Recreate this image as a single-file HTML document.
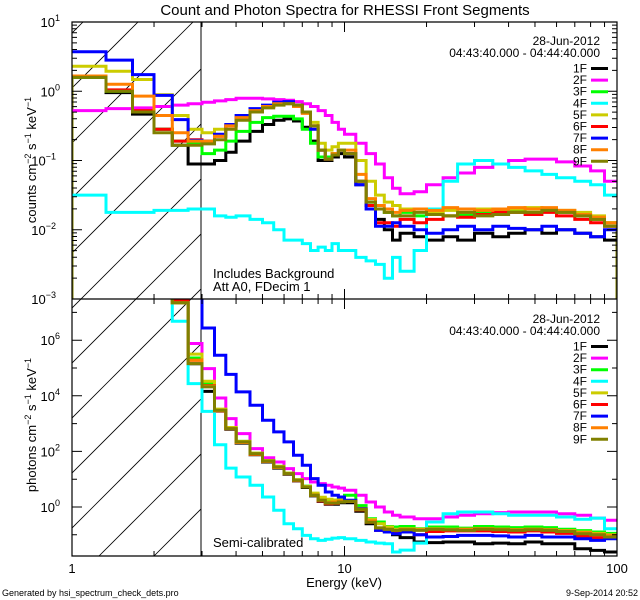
<!DOCTYPE html>
<html><head><meta charset="utf-8"><style>
html,body{margin:0;padding:0;background:#fff;}
svg{display:block;font-family:"Liberation Sans",sans-serif;}
</style></head><body>
<svg id="chart" width="640" height="600" viewBox="0 0 640 600" xmlns="http://www.w3.org/2000/svg">
<rect width="640" height="600" fill="#fff"/>
<defs>
<clipPath id="cTop"><rect x="72" y="22" width="545" height="277"/></clipPath>
<clipPath id="cBot"><rect x="72" y="299" width="545" height="257"/></clipPath>
<clipPath id="cHatch"><rect x="72" y="22" width="129" height="534"/></clipPath>
</defs>
<text x="345" y="15" font-size="15" text-anchor="middle">Count and Photon Spectra for RHESSI Front Segments</text>
<g id="hatch" clip-path="url(#cHatch)"></g>
<line x1="201" y1="22" x2="201" y2="556" stroke="#000" stroke-width="1"/>
<g id="seriesTop" clip-path="url(#cTop)"></g>
<g id="seriesBot" clip-path="url(#cBot)"></g>
<g id="axes"></g>
<text transform="translate(36,160) rotate(-90)" font-size="13" text-anchor="middle">counts cm<tspan dy="-5" font-size="9">−2</tspan><tspan dy="5"> s</tspan><tspan dy="-5" font-size="9">−1</tspan><tspan dy="5"> keV</tspan><tspan dy="-5" font-size="9">−1</tspan></text>
<text transform="translate(36,425) rotate(-90)" font-size="13" text-anchor="middle">photons cm<tspan dy="-5" font-size="9">−2</tspan><tspan dy="5"> s</tspan><tspan dy="-5" font-size="9">−1</tspan><tspan dy="5"> keV</tspan><tspan dy="-5" font-size="9">−1</tspan></text>
<text x="344" y="587" font-size="13" text-anchor="middle">Energy (keV)</text>
<text x="213" y="278" font-size="13">Includes Background</text>
<text x="213" y="291" font-size="13">Att A0, FDecim 1</text>
<text x="213" y="547" font-size="13">Semi-calibrated</text>
<text x="2" y="596" font-size="9">Generated by hsi_spectrum_check_dets.pro</text>
<text x="638" y="596" font-size="9" text-anchor="end">9-Sep-2014 20:52</text>
<g id="legends"></g>
</svg>
<script>
const edges=[1,1.333,1.667,2,2.333,2.667,3,3.333,3.667,4,4.5,5,5.5,6,6.5,7,7.5,8,8.5,9,9.5,10,11,12,13,14,15,16,18,20,23,26,30,35,40,46,53,60,70,80,90,100];
const names=["1F","2F","3F","4F","5F","6F","7F","8F","9F"];
const colors=["#000000","#ff00ff","#00ff00","#00ffff","#cccc00","#ff0000","#0000ff","#ff8000","#808000"];
const top1F=[0.2,-0.02,-0.33,-0.55,-0.78,-1.05,-1.05,-1.0,-0.88,-0.72,-0.58,-0.48,-0.42,-0.4,-0.43,-0.52,-0.72,-1.0,-1.0,-0.95,-0.9,-0.95,-1.35,-1.65,-1.85,-2.0,-2.15,-2.05,-2.1,-2.15,-2.1,-2.15,-2.05,-2.1,-2.05,-2.0,-2.05,-2.0,-2.05,-2.1,-2.15];
const top2F=[-0.28,-0.25,-0.24,-0.22,-0.2,-0.18,-0.16,-0.14,-0.12,-0.1,-0.1,-0.11,-0.12,-0.13,-0.15,-0.18,-0.22,-0.28,-0.35,-0.45,-0.55,-0.62,-0.75,-0.9,-1.05,-1.25,-1.4,-1.48,-1.45,-1.35,-1.25,-1.18,-1.1,-1.05,-1.0,-0.98,-0.98,-1.02,-1.08,-1.15,-1.3];
const top3F=[0.2,0.0,-0.3,-0.55,-0.72,-0.75,-0.9,-0.85,-0.72,-0.58,-0.45,-0.38,-0.36,-0.36,-0.4,-0.55,-0.75,-0.95,-0.95,-0.9,-0.85,-0.9,-1.3,-1.6,-1.7,-1.75,-1.8,-1.75,-1.8,-1.75,-1.8,-1.78,-1.75,-1.75,-1.72,-1.75,-1.7,-1.75,-1.8,-1.85,-1.9];
const top4F=[-1.5,-1.75,-1.75,-1.72,-1.72,-1.7,-1.7,-1.8,-1.82,-1.8,-1.85,-1.9,-2.0,-2.15,-2.15,-2.2,-2.3,-2.25,-2.3,-2.2,-2.3,-2.3,-2.4,-2.45,-2.5,-2.7,-2.4,-2.6,-2.3,-1.7,-1.3,-1.05,-1.0,-1.05,-1.1,-1.15,-1.2,-1.25,-1.3,-1.35,-1.5];
const top5F=[0.36,0.29,0.17,-0.05,-0.35,-0.55,-0.6,-0.55,-0.5,-0.4,-0.3,-0.22,-0.18,-0.17,-0.2,-0.3,-0.45,-0.75,-0.85,-0.8,-0.75,-0.75,-1.0,-1.3,-1.5,-1.6,-1.65,-1.7,-1.7,-1.75,-1.72,-1.75,-1.7,-1.72,-1.7,-1.68,-1.7,-1.72,-1.75,-1.8,-1.9];
const top6F=[0.22,0.02,-0.28,-0.55,-0.72,-0.7,-0.72,-0.65,-0.5,-0.38,-0.27,-0.22,-0.18,-0.17,-0.2,-0.3,-0.5,-0.85,-0.98,-0.92,-0.85,-0.9,-1.3,-1.65,-1.9,-1.9,-1.95,-1.85,-1.9,-1.85,-1.8,-1.82,-1.78,-1.75,-1.75,-1.78,-1.75,-1.8,-1.85,-1.9,-1.95];
const top7F=[0.57,0.45,0.24,-0.06,-0.41,-0.71,-0.72,-0.62,-0.48,-0.35,-0.25,-0.2,-0.16,-0.15,-0.2,-0.3,-0.55,-0.85,-0.98,-0.92,-0.85,-0.9,-1.35,-1.7,-1.95,-1.95,-1.9,-1.95,-2.0,-2.05,-2.0,-1.95,-2.0,-1.95,-1.98,-2.0,-1.95,-2.0,-2.05,-2.1,-2.0];
const top8F=[0.22,0.1,-0.07,-0.35,-0.6,-0.72,-0.72,-0.65,-0.5,-0.38,-0.28,-0.22,-0.18,-0.18,-0.22,-0.32,-0.5,-0.85,-0.98,-0.9,-0.85,-0.85,-1.2,-1.55,-1.65,-1.7,-1.75,-1.72,-1.7,-1.72,-1.68,-1.7,-1.72,-1.7,-1.68,-1.7,-1.68,-1.72,-1.78,-1.82,-1.9];
const top9F=[0.2,0.0,-0.3,-0.6,-0.78,-0.78,-0.76,-0.7,-0.55,-0.42,-0.3,-0.24,-0.2,-0.18,-0.2,-0.3,-0.5,-0.85,-0.98,-0.92,-0.85,-0.9,-1.3,-1.6,-1.7,-1.75,-1.8,-1.8,-1.75,-1.78,-1.8,-1.75,-1.8,-1.78,-1.75,-1.75,-1.72,-1.75,-1.8,-1.85,-1.95];
const bot1F=[9,9,9,9,7.35,5.15,4.16,3.45,2.8,2.3,1.88,1.62,1.4,1.18,0.94,0.7,0.4,0.2,0.1,0.1,0.15,0.15,-0.15,-0.6,-0.8,-0.85,-1.0,-1.1,-1.26,-1.28,-1.26,-1.26,-1.32,-1.3,-1.32,-1.26,-1.32,-1.32,-1.5,-1.56,-1.62];
const bot2F=[9,9,9,9,7.35,5.88,4.98,3.92,3.18,2.64,2.1,1.77,1.62,1.38,1.2,1.02,0.9,0.84,0.78,0.72,0.68,0.6,0.42,0.18,0.0,-0.18,-0.3,-0.36,-0.42,-0.42,-0.36,-0.3,-0.24,-0.2,-0.18,-0.18,-0.18,-0.24,-0.3,-0.4,-0.48];
const bot3F=[9,9,9,9,7.35,5.36,4.44,3.5,2.84,2.36,1.93,1.67,1.46,1.22,0.98,0.75,0.46,0.28,0.2,0.25,0.35,0.42,0.05,-0.42,-0.54,-0.7,-0.72,-0.7,-0.78,-0.72,-0.72,-0.76,-0.7,-0.72,-0.74,-0.72,-0.74,-0.8,-0.85,-0.9,-0.95];
const bot4F=[9,9,9,9,6.68,4.44,3.44,2.24,1.4,1.08,0.78,0.36,-0.12,-0.6,-0.78,-1.02,-1.14,-1.2,-1.16,-1.12,-1.1,-1.14,-1.2,-1.26,-1.3,-1.32,-1.62,-1.55,-1.3,-0.54,-0.24,-0.18,-0.18,-0.24,-0.3,-0.3,-0.3,-0.36,-0.44,-0.4,-0.78];
const bot5F=[9,9,9,9,7.35,5.5,4.52,3.52,2.86,2.36,1.94,1.67,1.46,1.22,0.98,0.74,0.5,0.35,0.28,0.25,0.25,0.2,-0.05,-0.45,-0.6,-0.72,-0.8,-0.78,-0.8,-0.78,-0.8,-0.8,-0.78,-0.8,-0.82,-0.8,-0.82,-0.85,-0.9,-0.95,-1.0];
const bot6F=[9,9,9,9,7.45,5.28,4.36,3.46,2.82,2.32,1.9,1.64,1.42,1.2,0.95,0.72,0.42,0.22,0.12,0.13,0.2,0.2,-0.1,-0.55,-0.84,-0.88,-0.9,-0.84,-1.0,-0.88,-0.86,-0.86,-0.86,-0.88,-0.9,-0.86,-0.9,-0.95,-1.05,-1.1,-1.1];
const bot7F=[9,9,9,9,9,9,6.44,5.46,4.77,4.14,3.66,3.12,2.7,2.34,1.86,1.5,1.02,0.78,0.54,0.42,0.36,0.24,-0.06,-0.54,-0.84,-0.9,-0.96,-0.9,-1.0,-1.08,-1.06,-1.02,-1.02,-1.04,-1.08,-1.02,-1.08,-1.08,-1.14,-1.2,-1.14];
const bot8F=[9,9,9,9,7.35,5.28,4.34,3.46,2.82,2.32,1.9,1.64,1.42,1.2,0.96,0.72,0.42,0.24,0.16,0.18,0.2,0.2,-0.1,-0.5,-0.75,-0.8,-0.84,-0.8,-0.82,-0.8,-0.82,-0.8,-0.78,-0.8,-0.82,-0.8,-0.82,-0.86,-0.92,-0.98,-1.02];
const bot9F=[9,9,9,9,7.35,5.16,4.32,3.48,2.82,2.34,1.92,1.65,1.44,1.2,0.96,0.72,0.42,0.24,0.14,0.14,0.18,0.2,-0.08,-0.55,-0.75,-0.8,-0.84,-0.82,-0.84,-0.8,-0.82,-0.84,-0.8,-0.82,-0.84,-0.82,-0.84,-0.88,-0.96,-1.0,-1.08];
const topSeries=[top1F,top2F,top3F,top4F,top5F,top6F,top7F,top8F,top9F];
const botSeries=[bot1F,bot2F,bot3F,bot4F,bot5F,bot6F,bot7F,bot8F,bot9F];
const xTickLabels=["1","10","100"];
const topYTickExps=["1","0","−1","−2","−3"];
const botYTickExps=["6","4","2","0"];
const legendDate="28-Jun-2012";
const legendTime="04:43:40.000 - 04:44:40.000";

const NS="http://www.w3.org/2000/svg";
const X0=72,X1=617,TY0=22,MID=299,BY1=556;
function xS(e){return X0+Math.log10(e)*(X1-X0)/2;}
function yT(l){return TY0+(1-l)*(MID-TY0)/4;}
function yB(l){return 507-l*27.8;}
function mk(tag,attrs,parent){const el=document.createElementNS(NS,tag);for(const k in attrs)el.setAttribute(k,attrs[k]);parent.appendChild(el);return el;}

// hatch
const hatch=document.getElementById('hatch');
for(let c=50-55*2;c<900;c+=55){
  const l=mk('line',{x1:c-600,y1:600,x2:c,y2:0,stroke:'#000','stroke-width':0.8},hatch);
  
  
}

function stepPath(vals,ys){
  let d='M'+xS(edges[0]).toFixed(1)+' '+ys(vals[0]).toFixed(1);
  for(let i=0;i<vals.length;i++){
    if(i>0)d+=' V'+ys(vals[i]).toFixed(1);
    d+=' H'+xS(edges[i+1]).toFixed(1);
  }
  return d;
}
const gT=document.getElementById('seriesTop'),gB=document.getElementById('seriesBot');
// edge verticals of 9F in top panel
const ev=mk('path',{d:'M'+X0+' '+MID+' V'+yT(top9F[0])+' M'+X1+' '+MID+' V'+yT(top9F[top9F.length-1]),stroke:colors[8],'stroke-width':3,fill:'none'},gT);


for(let s=0;s<9;s++){
  const p=mk('path',{d:stepPath(topSeries[s],yT),stroke:colors[s],'stroke-width':3,fill:'none','stroke-linejoin':'miter'},gT);
  
  
  const q=mk('path',{d:stepPath(botSeries[s],yB),stroke:colors[s],'stroke-width':3,fill:'none'},gB);
  
  
}

// axes
const ax=document.getElementById('axes');
const frame=mk('path',{d:`M${X0} ${TY0} H${X1} V${BY1} H${X0} Z M${X0} ${MID} H${X1}`,stroke:'#000','stroke-width':1.2,fill:'none'},ax);


let td='';
for(let dec=0;dec<2;dec++)for(let m=1;m<10;m++){
  const e=m*Math.pow(10,dec);const x=xS(e);const L=m===1?10:5;
  if(m===1&&dec===0)continue;
  td+=`M${x} ${TY0}v${L}M${x} ${MID}v${-L}M${x} ${MID}v${L}M${x} ${BY1}v${-L}`;
}
for(let dec=-3;dec<1;dec++)for(let m=1;m<10;m++){
  const l=dec+Math.log10(m);const y=yT(l);const L=m===1?10:5;
  if(m===1&&dec===-3)continue;
  td+=`M${X0} ${y}h${L}M${X1} ${y}h${-L}`;
}
for(let dec=-1;dec<=7;dec++){
  const y=yB(dec);const L=dec%2===0?10:5;
  td+=`M${X0} ${y}h${L}M${X1} ${y}h${-L}`;
}
const ticks=mk('path',{d:td,stroke:'#000','stroke-width':1,fill:'none'},ax);


xTickLabels.forEach((t,i)=>{
  const el=mk('text',{x:xS(Math.pow(10,i)),y:573,'font-size':13,'text-anchor':'middle'},ax);
  el.textContent=t;
  
  
});
function yLabel(y,exp){
  const el=mk('text',{x:66,y:y+5,'font-size':13,'text-anchor':'end'},ax);
  
  
  el.innerHTML='10<tspan dy="-6" font-size="9">'+exp+'</tspan>';
  const w=exp.length>1?10:6;
  el.setAttribute('x',66-w);
  el.innerHTML='10<tspan dy="-6" font-size="9">'+exp+'</tspan>';
}
topYTickExps.forEach((e,i)=>yLabel(yT(1-i),e));
botYTickExps.forEach((e,i)=>yLabel(yB(6-2*i),e));

// legends
const lg=document.getElementById('legends');
function legend(y0,tag){
  const g=mk('g',{},lg);
  
  
  const d1=mk('text',{x:600,y:y0,'font-size':12,'text-anchor':'end'},g);d1.textContent=legendDate;
  
  
  const d2=mk('text',{x:600,y:y0+12,'font-size':12,'text-anchor':'end'},g);d2.textContent=legendTime;
  
  
  names.forEach((n,i)=>{
    const yy=y0+23.5+i*11.6;
    const t=mk('text',{x:587,y:yy+4,'font-size':12,'text-anchor':'end'},g);t.textContent=n;
    
    
    const l=mk('line',{x1:591,y1:yy,x2:608,y2:yy,stroke:colors[i],'stroke-width':3},g);
    
    
  });
}
legend(45,'top');
legend(323,'bottom');
</script>
</body></html>
